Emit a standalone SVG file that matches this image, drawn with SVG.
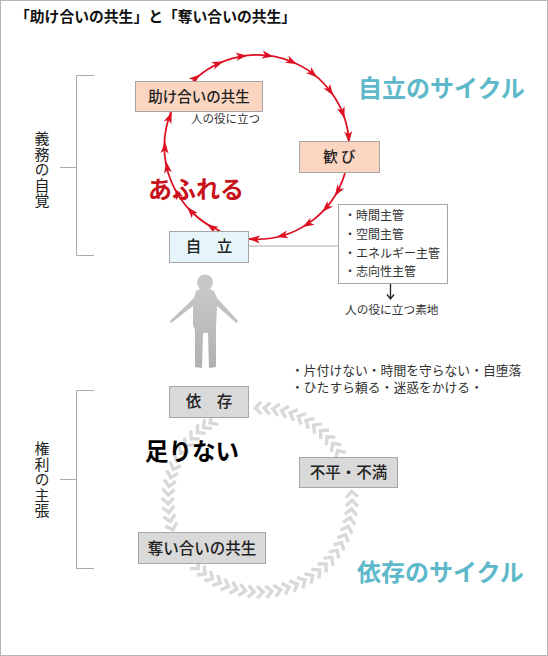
<svg xmlns="http://www.w3.org/2000/svg" width="548" height="656" viewBox="0 0 548 656">
<style>
text{font-family:"Noto Sans CJK JP","Liberation Sans",sans-serif;fill:#222}
.box{stroke:#a6a6a6;stroke-width:1}
.lbl{font-size:14.500px;text-anchor:middle;font-weight:500}
.lbl2{font-size:15.500px;text-anchor:middle;font-weight:500}
.small{font-size:12px;fill:#333}
.big{font-size:24px;font-weight:700;fill:#5db9c9}
.vert{font-size:15px;writing-mode:vertical-rl;letter-spacing:0.500px}
.br{fill:none;stroke:#aaa;stroke-width:1}
.red{fill:none;stroke:#dc1020;stroke-width:1.800}
.chev{fill:none;stroke:#d9d9d9;stroke-width:3.400}
</style>
<defs>
<polygon id="h" points="257.500,55 246,51 249,55 246,59" fill="#dc1020"/>
<path id="c" d="M264.500 402L258.500 408L264.500 414" class="chev"/>
<linearGradient id="g" x1="0" y1="0" x2="0" y2="1"><stop offset="0" stop-color="#c8c8c8"/><stop offset="1" stop-color="#b0b0b0"/></linearGradient>
</defs>
<rect x="0.500" y="0.500" width="547" height="655" fill="#fff" stroke="#b5b5b5"/>
<text id="title" x="15" y="22" style="font-size:14.800px;font-weight:700;fill:#111">「助け合いの共生」と「奪い合いの共生」</text>
<g id="connectors">
<path class="red" d="M193 81A92 92 0 0 1 349 142"/>
<path class="red" d="M345 173A92 92 0 0 1 249 239"/>
<path class="red" d="M220 231A92 92 0 0 1 171 112"/>
<use href="#h" transform="rotate(-38.400 257 147)"/><use href="#h" transform="rotate(-21.800 257 147)"/><use href="#h" transform="rotate(-6.300 257 147)"/><use href="#h" transform="rotate(10 257 147)"/><use href="#h" transform="rotate(25.500 257 147)"/><use href="#h" transform="rotate(40.600 257 147)"/><use href="#h" transform="rotate(55.600 257 147)"/><use href="#h" transform="rotate(71.600 257 147)"/><use href="#h" transform="rotate(87 257 147)"/><use href="#h" transform="rotate(122 257 147)"/><use href="#h" transform="rotate(134.600 257 147)"/><use href="#h" transform="rotate(150 257 147)"/><use href="#h" transform="rotate(167.500 257 147)"/><use href="#h" transform="rotate(185 257 147)"/><use href="#h" transform="rotate(212.700 257 147)"/><use href="#h" transform="rotate(229 257 147)"/><use href="#h" transform="rotate(243 257 147)"/><use href="#h" transform="rotate(260.600 257 147)"/><use href="#h" transform="rotate(273 257 147)"/><use href="#h" transform="rotate(292 257 147)"/>
<use href="#c" transform="rotate(64 260 500)"/><use href="#c" transform="rotate(58.500 260 500)"/><use href="#c" transform="rotate(53 260 500)"/><use href="#c" transform="rotate(47.500 260 500)"/><use href="#c" transform="rotate(42 260 500)"/><use href="#c" transform="rotate(36.500 260 500)"/><use href="#c" transform="rotate(31 260 500)"/><use href="#c" transform="rotate(25.500 260 500)"/><use href="#c" transform="rotate(20 260 500)"/><use href="#c" transform="rotate(14.500 260 500)"/><use href="#c" transform="rotate(9 260 500)"/><use href="#c" transform="rotate(3.500 260 500)"/><use href="#c" transform="rotate(-2 260 500)"/>
<use href="#c" transform="rotate(-32 260 500)"/><use href="#c" transform="rotate(-37 260 500)"/><use href="#c" transform="rotate(-42 260 500)"/><use href="#c" transform="rotate(-47.500 260 500)"/><use href="#c" transform="rotate(-53 260 500)"/><use href="#c" transform="rotate(-58.500 260 500)"/><use href="#c" transform="rotate(-64 260 500)"/><use href="#c" transform="rotate(-69.500 260 500)"/><use href="#c" transform="rotate(-75 260 500)"/><use href="#c" transform="rotate(-80.500 260 500)"/><use href="#c" transform="rotate(-86 260 500)"/><use href="#c" transform="rotate(-91.500 260 500)"/><use href="#c" transform="rotate(-97 260 500)"/><use href="#c" transform="rotate(-102.500 260 500)"/><use href="#c" transform="rotate(-108 260 500)"/>
<use href="#c" transform="rotate(-137 260 500)"/><use href="#c" transform="rotate(-142.500 260 500)"/><use href="#c" transform="rotate(-148 260 500)"/><use href="#c" transform="rotate(-153.500 260 500)"/><use href="#c" transform="rotate(-159 260 500)"/><use href="#c" transform="rotate(-164.500 260 500)"/><use href="#c" transform="rotate(-170 260 500)"/><use href="#c" transform="rotate(-175.500 260 500)"/><use href="#c" transform="rotate(-181 260 500)"/><use href="#c" transform="rotate(-186.500 260 500)"/><use href="#c" transform="rotate(-192 260 500)"/><use href="#c" transform="rotate(-197.500 260 500)"/><use href="#c" transform="rotate(-203 260 500)"/><use href="#c" transform="rotate(-208.500 260 500)"/><use href="#c" transform="rotate(-214 260 500)"/><use href="#c" transform="rotate(-219.500 260 500)"/><use href="#c" transform="rotate(-225 260 500)"/><use href="#c" transform="rotate(-230.500 260 500)"/><use href="#c" transform="rotate(-236 260 500)"/><use href="#c" transform="rotate(-241.500 260 500)"/><use href="#c" transform="rotate(-247 260 500)"/><use href="#c" transform="rotate(-252.500 260 500)"/><use href="#c" transform="rotate(-258 260 500)"/><use href="#c" transform="rotate(-263.500 260 500)"/><use href="#c" transform="rotate(-269 260 500)"/><use href="#c" transform="rotate(-274.500 260 500)"/>
<path d="M248 246H338" class="br"/>
<path d="M390.500 283V298M387 294.500L390.500 299L394 294.500" fill="none" stroke="#222" stroke-width="1.300"/>
<path class="br" d="M94 75.500H76.500V255.500H94M60 167.500H76.500"/>
<path class="br" d="M94 390.500H76.500V568.500H94M60 479.500H76.500"/>
</g>
<g id="n-help"><rect class="box" x="135.500" y="81.500" width="127" height="30" fill="#fbd5c0"/><text class="lbl" x="199" y="101.500">助け合いの共生</text></g>
<g id="n-joy"><rect class="box" x="299.500" y="141.500" width="80" height="31" fill="#fbd5c0"/><text class="lbl" x="339.500" y="162">歓 び</text></g>
<g id="n-self"><rect class="box" x="169.500" y="231.500" width="79" height="31" fill="#e6f5fa"/><text class="lbl2" x="209" y="252">自　立</text></g>
<g id="n-dep"><rect class="box" x="169.500" y="386.500" width="79" height="31" fill="#d9d9d9"/><text class="lbl2" x="209" y="407">依　存</text></g>
<g id="n-comp"><rect class="box" x="299.500" y="457.500" width="98" height="30" fill="#d9d9d9"/><text class="lbl2" x="348.500" y="478">不平・不満</text></g>
<g id="n-take"><rect class="box" x="138.500" y="532.500" width="127" height="31" fill="#d9d9d9"/><text class="lbl2" x="202" y="553.500">奪い合いの共生</text></g>
<g id="n-list"><rect class="box" x="338.500" y="204.500" width="109" height="79" fill="#fff"/>
<text class="small" x="344" y="220">・時間主管</text><text class="small" x="344" y="239">・空間主管</text><text class="small" x="344" y="257.500">・エネルギー主管</text><text class="small" x="344" y="276">・志向性主管</text></g>
<text class="small" x="345" y="314" style="font-size:11.700px">人の役に立つ素地</text>
<text class="small" x="191" y="123" style="font-size:11.500px">人の役に立つ</text>
<text x="148" y="198" style="font-size:24px;font-weight:700;fill:#c8101a">あふれる</text>
<text x="145" y="460" style="font-size:23.500px;font-weight:700;fill:#000">足りない</text>
<text class="big" x="358" y="97">自立のサイクル</text>
<text class="big" x="357" y="581">依存のサイクル</text>
<text class="small" style="font-size:12.800px"><tspan x="291" y="375">・片付けない・時間を守らない・自堕落</tspan><tspan x="291" y="392">・ひたすら頼る・迷惑をかける・</tspan></text>
<text class="vert" x="42" y="131">義務の自覚</text>
<text class="vert" x="42" y="441">権利の主張</text>
<g id="person"><circle cx="205" cy="282.500" r="8" fill="#c8c8c8"/>
<path fill="url(#g)" d="M196 291Q205 285 214 291L217 298L238 321L236.500 323L217 306L216 327L216 333L216 367L209 368L208 333L203 333L202 368L195 367L195 330L193 325L193 306L171 323L170 321L194 298Z"/></g>
</svg>
